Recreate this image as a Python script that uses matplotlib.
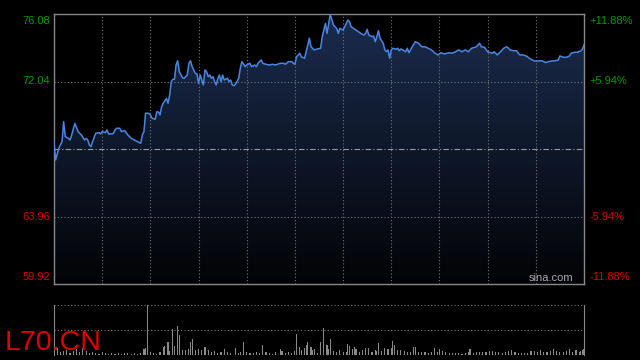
import numpy as np
import matplotlib
matplotlib.use("Agg")
import matplotlib.pyplot as plt
from matplotlib.patches import Polygon
from matplotlib.colors import LinearSegmentedColormap

# minutes since open and last price
t_min = [0, 1, 3, 5, 6, 7, 9, 10, 11, 13,
         15, 17, 19, 20, 21, 22, 23, 24, 26, 28,
         29, 30, 32, 33, 34, 36, 37, 38, 39, 41,
         42, 44, 46, 48, 50, 52, 54, 55, 56, 57,
         59, 60, 61, 63, 64, 65, 66, 67, 68, 70,
         71, 72, 73, 74, 75, 76, 77, 78, 80, 81,
         83, 84, 85, 86, 88, 89, 90, 91, 92, 93,
         94, 95, 96, 97, 98, 99, 100, 101, 102, 103,
         104, 105, 106, 108, 109, 110, 111, 112, 113, 115,
         116, 117, 119, 120, 122, 123, 125, 126, 127, 129,
         130, 132, 134, 136, 138, 139, 141, 143, 144, 146,
         148, 149, 150, 151, 153, 154, 156, 157, 159, 160,
         162, 164, 166, 167, 168, 169, 170, 172, 174, 176,
         177, 178, 180, 181, 183, 184, 185, 188, 191, 193,
         194, 195, 196, 198, 199, 200, 201, 202, 203, 205,
         206, 207, 208, 209, 210, 211, 213, 214, 215, 216,
         217, 219, 220, 221, 222, 223, 225, 227, 229, 231,
         233, 235, 237, 239, 241, 243, 246, 248, 250, 252,
         254, 256, 258, 260, 262, 263, 265, 266, 268, 270,
         273, 274, 276, 278, 280, 282, 284, 286, 288, 290,
         292, 294, 296, 297, 299, 302, 304, 306, 308, 310,
         312, 314, 315, 317, 319, 321, 322, 324, 326, 328,
         329, 330]
price = [68.44, 67.34, 68.06, 68.44, 69.63, 68.74, 68.64, 68.54, 68.84, 69.54,
         69.04, 68.84, 68.54, 68.64, 68.54, 68.24, 68.14, 68.44, 68.94, 68.98,
         68.90, 69.04, 68.98, 69.14, 68.90, 68.90, 68.94, 69.14, 69.24, 69.24,
         69.04, 69.10, 68.84, 68.64, 68.54, 68.44, 68.34, 68.84, 69.04, 70.14,
         70.14, 70.04, 69.84, 69.78, 70.23, 70.21, 70.04, 70.53, 70.74, 71.03,
         70.74, 71.23, 72.03, 72.17, 72.17, 73.03, 73.28, 72.63, 72.27, 72.23,
         72.43, 73.13, 73.28, 72.93, 72.53, 72.49, 71.93, 72.43, 72.13, 71.83,
         72.73, 72.63, 72.33, 72.43, 72.23, 72.33, 72.03, 71.83, 72.23, 72.43,
         72.03, 72.43, 72.13, 72.23, 72.03, 72.13, 71.83, 71.79, 71.87, 72.23,
         72.83, 73.23, 72.93, 73.03, 73.13, 72.93, 73.03, 72.93, 73.13, 73.33,
         73.13, 73.07, 73.03, 73.07, 73.03, 73.07, 73.13, 73.13, 73.07, 73.23,
         73.23, 73.13, 73.07, 73.52, 73.73, 73.52, 73.43, 73.82, 74.63, 74.12,
         73.93, 73.99, 74.03, 74.72, 75.12, 75.52, 74.92, 76.05, 75.42, 75.22,
         74.92, 75.22, 75.12, 75.32, 75.72, 75.62, 75.32, 75.12, 74.92, 74.82,
         74.92, 75.16, 74.82, 74.72, 74.76, 74.42, 74.72, 75.08, 74.63, 74.33,
         73.93, 73.82, 73.93, 73.43, 73.93, 74.03, 73.97, 74.03, 73.88, 73.99,
         73.93, 73.82, 74.03, 73.76, 73.93, 74.12, 74.42, 74.33, 74.12, 74.12,
         74.03, 73.93, 73.76, 73.63, 73.76, 73.69, 73.76, 73.73, 73.82, 73.93,
         73.82, 73.93, 73.82, 74.03, 74.09, 74.12, 74.33, 74.12, 74.09, 73.82,
         73.73, 73.82, 73.63, 73.82, 74.03, 74.12, 73.93, 73.88, 73.88, 73.63,
         73.63, 73.57, 73.43, 73.37, 73.27, 73.27, 73.28, 73.17, 73.23, 73.27,
         73.28, 73.33, 73.57, 73.49, 73.49, 73.57, 73.73, 73.79, 73.79, 73.87,
         73.97, 74.22]

# volume (hundreds of shares)
vol_t = [0, 2, 4, 6, 8, 10, 12, 14, 16, 18, 20, 22, 24, 26, 28, 30, 32, 34, 36, 38,
         40, 42, 44, 46, 48, 50, 52, 54, 56, 57, 58, 60, 62, 64, 66, 68, 69, 71, 72, 74,
         75, 77, 78, 80, 82, 84, 85, 86, 88, 90, 92, 94, 96, 98, 100, 102, 104, 106, 108, 110,
         113, 115, 116, 118, 120, 122, 124, 126, 128, 130, 132, 134, 136, 138, 141, 142, 144, 146, 148, 150,
         151, 153, 154, 156, 157, 158, 160, 161, 162, 164, 166, 168, 170, 171, 172, 174, 176, 178, 180, 182,
         183, 184, 186, 187, 188, 190, 192, 194, 196, 198, 200, 201, 202, 204, 206, 208, 210, 211, 212, 214,
         216, 218, 220, 222, 224, 225, 227, 229, 231, 233, 235, 237, 239, 240, 242, 244, 246, 248, 250, 252,
         254, 256, 258, 259, 261, 263, 265, 267, 269, 271, 273, 275, 277, 279, 281, 283, 285, 287, 289, 291,
         293, 295, 297, 299, 301, 303, 305, 307, 309, 311, 313, 315, 317, 319, 321, 323, 325, 327, 328, 329,
         330]
vol = [50, 67, 30, 40, 50, 25, 40, 60, 30, 67, 40, 20, 30, 25, 15, 30, 20, 15, 25, 15,
       20, 10, 25, 20, 10, 25, 15, 20, 57, 67, 500, 30, 20, 15, 30, 80, 90, 130, 40, 260,
       90, 290, 200, 50, 50, 60, 127, 160, 50, 57, 50, 80, 50, 30, 40, 25, 30, 60, 30, 20,
       67, 25, 30, 130, 30, 20, 25, 30, 20, 100, 30, 20, 15, 30, 60, 40, 25, 30, 20, 40,
       210, 80, 50, 67, 100, 130, 80, 50, 60, 20, 130, 267, 100, 57, 160, 40, 27, 50, 33, 27,
       110, 90, 57, 80, 57, 33, 50, 70, 67, 27, 50, 40, 117, 40, 67, 57, 73, 140, 100, 50,
       50, 40, 33, 33, 77, 77, 27, 27, 27, 23, 27, 67, 27, 60, 40, 33, 17, 23, 17, 17,
       10, 17, 27, 60, 17, 27, 27, 33, 27, 40, 40, 33, 27, 23, 33, 40, 50, 33, 17, 17,
       17, 17, 40, 40, 33, 50, 33, 27, 40, 57, 40, 33, 33, 40, 57, 33, 50, 27, 40, 50,
       57]

prev_close = 68.00
lo, hi = 59.92, 76.08
levels = [hi, 72.04, 63.96, lo]
green, red = "#009a00", "#d80000"

plt.rcParams["font.family"] = ["Liberation Sans", "DejaVu Sans"]

fig = plt.figure(figsize=(6.4, 3.6), dpi=100, facecolor="black")
ax = fig.add_axes([54 / 640, 76 / 360, 530 / 640, 270 / 360])
ax.set_facecolor("black")
ax.set_xlim(0, 330)
ax.set_ylim(lo, hi)

# gradient fill under the price line
cmap = LinearSegmentedColormap.from_list("fade", ["#020306", "#1b2c4e"])
grad = np.linspace(0, 1, 256).reshape(-1, 1)
img = ax.imshow(grad, extent=[0, 330, lo, hi], origin="lower", aspect="auto",
                cmap=cmap, zorder=1)
verts = list(zip(t_min, price)) + [(t_min[-1], lo), (t_min[0], lo)]
clip = Polygon(verts, closed=True, facecolor="none", edgecolor="none")
ax.add_patch(clip)
img.set_clip_path(clip)

for m in range(30, 330, 30):
    ax.axvline(m, color="#777777", lw=0.8, ls=(0, (1, 2)), zorder=2)
for v in (72.04, 63.96):
    ax.axhline(v, color="#777777", lw=0.8, ls=(0, (1, 2)), zorder=2)
ax.axhline(prev_close, color="#9a9a9a", lw=0.8, ls=(0, (5, 2, 1, 2)), zorder=2)

ax.plot(t_min, price, color="#4a86e0", lw=1.1, zorder=3)

for s in ax.spines.values():
    s.set_color("#888888")
    s.set_linewidth(1)
ax.set_xticks([])
ax.set_yticks([])

# price and percent labels on both sides
for v in levels:
    c = green if v > prev_close else red
    va = "top" if v == hi else ("bottom" if v == lo else "center")
    off = -1.5 if v == hi else (1.5 if v == lo else 0)
    pct = (v - prev_close) / prev_close * 100
    ax.annotate(f"{v:.2f}", (0, v), xycoords=("axes fraction", "data"),
                xytext=(-3, off), textcoords="offset points",
                ha="right", va=va, color=c, fontsize=8)
    ax.annotate(f"{pct:+.2f}%", (1, v), xycoords=("axes fraction", "data"),
                xytext=(4, off), textcoords="offset points",
                ha="left", va=va, color=c, fontsize=8)

ax.text(0.979, 0.004, "sina.com", transform=ax.transAxes, ha="right", va="bottom",
        color="#aaaaaa", fontsize=8, zorder=4)

# volume panel
axv = fig.add_axes([54 / 640, 5 / 360, 530 / 640, 50 / 360])
axv.set_facecolor("black")
axv.bar(vol_t, vol, width=0.7, color="#8a8a8a")
axv.set_xlim(0, 330)
axv.set_ylim(0, max(vol))
axv.set_xticks([])
axv.set_yticks([])
for k in ("top", "bottom"):
    axv.spines[k].set_visible(False)
for k in ("left", "right"):
    axv.spines[k].set_color("#888888")
for v in (max(vol), max(vol) / 2):
    axv.axhline(v, color="#777777", lw=0.8, ls=(0, (1, 2)), clip_on=False)

fig.text(5 / 640, 10 / 360, "L70.CN", color="#e00000", fontsize=20.5, va="baseline")

fig.savefig("out.png", dpi=100, facecolor="black")
